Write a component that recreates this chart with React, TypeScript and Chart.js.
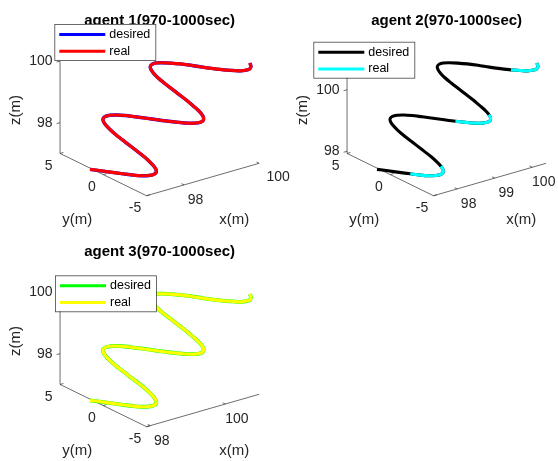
import { useEffect, useRef } from "react";
import { Chart, registerables } from "chart.js";

Chart.register(...registerables);

// Sample times over the 970–1000 s window (0.5 s step)
const timeSec = [
  970, 970.5, 971, 971.5, 972, 972.5, 973, 973.5, 974, 974.5, 975, 975.5, 976, 976.5, 977, 977.5,
  978, 978.5, 979, 979.5, 980, 980.5, 981, 981.5, 982, 982.5, 983, 983.5, 984, 984.5, 985, 985.5,
  986, 986.5, 987, 987.5, 988, 988.5, 989, 989.5, 990, 990.5, 991, 991.5, 992, 992.5, 993, 993.5,
  994, 994.5, 995, 995.5, 996, 996.5, 997, 997.5, 998, 998.5, 999, 999.5, 1000,
];

// Agent 1 track (m)
const agent1X = [
  97, 97.05, 97.1, 97.15, 97.2, 97.25, 97.3, 97.35, 97.4, 97.45, 97.5, 97.55, 97.6, 97.65, 97.7, 97.75,
  97.8, 97.85, 97.9, 97.95, 98, 98.05, 98.1, 98.15, 98.2, 98.25, 98.3, 98.35, 98.4, 98.45, 98.5, 98.55,
  98.6, 98.65, 98.7, 98.75, 98.8, 98.85, 98.9, 98.95, 99, 99.05, 99.1, 99.15, 99.2, 99.25, 99.3, 99.35,
  99.4, 99.45, 99.5, 99.55, 99.6, 99.65, 99.7, 99.75, 99.8, 99.85, 99.9, 99.95, 100,
];
const agent1Y = [
  1.53, 0.47, -0.61, -1.66, -2.61, -3.39, -3.97, -4.3, -4.36, -4.16, -3.69, -3.0, -2.13, -1.12, -0.04, 1.03,
  2.05, 2.94, 3.65, 4.13, 4.35, 4.31, 4.0, 3.45, 2.68, 1.74, 0.7, -0.39, -1.45, -2.42, -3.24, -3.87,
  -4.25, -4.37, -4.22, -3.81, -3.16, -2.32, -1.34, -0.27, 0.81, 1.85, 2.77, 3.51, 4.05, 4.33, 4.34, 4.09,
  3.58, 2.85, 1.95, 0.93, -0.16, -1.23, -2.23, -3.08, -3.75, -4.19, -4.37, -4.27, -3.92,
];
const agent1Z = [
  96.96, 97.04, 97.12, 97.2, 97.27, 97.34, 97.41, 97.47, 97.52, 97.56, 97.6, 97.63, 97.66, 97.68, 97.7, 97.72,
  97.74, 97.77, 97.8, 97.84, 97.88, 97.93, 97.99, 98.06, 98.13, 98.2, 98.28, 98.36, 98.44, 98.52, 98.59, 98.66,
  98.72, 98.77, 98.82, 98.86, 98.89, 98.91, 98.94, 98.96, 98.98, 99.0, 99.02, 99.05, 99.09, 99.13, 99.18, 99.24,
  99.3, 99.37, 99.45, 99.53, 99.6, 99.68, 99.76, 99.84, 99.9, 99.97, 100.02, 100.07, 100.11,
];

// Agent 2 track (m)
const agent2X = [
  97.37, 97.42, 97.47, 97.52, 97.57, 97.62, 97.67, 97.72, 97.77, 97.82, 97.87, 97.92, 97.97, 98.02, 98.07, 98.12,
  98.17, 98.22, 98.27, 98.32, 98.37, 98.42, 98.47, 98.52, 98.57, 98.62, 98.67, 98.72, 98.77, 98.82, 98.87, 98.92,
  98.97, 99.02, 99.07, 99.12, 99.17, 99.22, 99.27, 99.32, 99.37, 99.42, 99.47, 99.52, 99.57, 99.62, 99.67, 99.72,
  99.77, 99.82, 99.87, 99.92, 99.97, 100.02, 100.07, 100.12, 100.17, 100.22, 100.27, 100.32, 100.37,
];
const agent2Y = [
  1.53, 0.47, -0.61, -1.66, -2.61, -3.39, -3.97, -4.3, -4.36, -4.16, -3.69, -3.0, -2.13, -1.12, -0.04, 1.03,
  2.05, 2.94, 3.65, 4.13, 4.35, 4.31, 4.0, 3.45, 2.68, 1.74, 0.7, -0.39, -1.45, -2.42, -3.24, -3.87,
  -4.25, -4.37, -4.22, -3.81, -3.16, -2.32, -1.34, -0.27, 0.81, 1.85, 2.77, 3.51, 4.05, 4.33, 4.34, 4.09,
  3.58, 2.85, 1.95, 0.93, -0.16, -1.23, -2.23, -3.08, -3.75, -4.19, -4.37, -4.27, -3.92,
];
const agent2Z = [
  97.89, 97.97, 98.05, 98.13, 98.2, 98.27, 98.34, 98.4, 98.45, 98.49, 98.53, 98.56, 98.59, 98.61, 98.63, 98.65,
  98.67, 98.7, 98.73, 98.77, 98.81, 98.86, 98.92, 98.99, 99.06, 99.13, 99.21, 99.29, 99.37, 99.45, 99.52, 99.59,
  99.65, 99.7, 99.75, 99.79, 99.82, 99.84, 99.87, 99.89, 99.91, 99.93, 99.95, 99.98, 100.02, 100.06, 100.11, 100.17,
  100.23, 100.3, 100.38, 100.46, 100.53, 100.61, 100.69, 100.77, 100.83, 100.9, 100.95, 101.0, 101.04,
];

// Agent 3 track (m)
const agent3X = [
  97.9, 97.95, 98, 98.05, 98.1, 98.15, 98.2, 98.25, 98.3, 98.35, 98.4, 98.45, 98.5, 98.55, 98.6, 98.65,
  98.7, 98.75, 98.8, 98.85, 98.9, 98.95, 99, 99.05, 99.1, 99.15, 99.2, 99.25, 99.3, 99.35, 99.4, 99.45,
  99.5, 99.55, 99.6, 99.65, 99.7, 99.75, 99.8, 99.85, 99.9, 99.95, 100, 100.05, 100.1, 100.15, 100.2, 100.25,
  100.3, 100.35, 100.4, 100.45, 100.5, 100.55, 100.6, 100.65, 100.7, 100.75, 100.8, 100.85, 100.9,
];
const agent3Y = [
  1.53, 0.47, -0.61, -1.66, -2.61, -3.39, -3.97, -4.3, -4.36, -4.16, -3.69, -3.0, -2.13, -1.12, -0.04, 1.03,
  2.05, 2.94, 3.65, 4.13, 4.35, 4.31, 4.0, 3.45, 2.68, 1.74, 0.7, -0.39, -1.45, -2.42, -3.24, -3.87,
  -4.25, -4.37, -4.22, -3.81, -3.16, -2.32, -1.34, -0.27, 0.81, 1.85, 2.77, 3.51, 4.05, 4.33, 4.34, 4.09,
  3.58, 2.85, 1.95, 0.93, -0.16, -1.23, -2.23, -3.08, -3.75, -4.19, -4.37, -4.27, -3.92,
];
const agent3Z = [
  96.96, 97.04, 97.12, 97.2, 97.27, 97.34, 97.41, 97.47, 97.52, 97.56, 97.6, 97.63, 97.66, 97.68, 97.7, 97.72,
  97.74, 97.77, 97.8, 97.84, 97.88, 97.93, 97.99, 98.06, 98.13, 98.2, 98.28, 98.36, 98.44, 98.52, 98.59, 98.66,
  98.72, 98.77, 98.82, 98.86, 98.89, 98.91, 98.94, 98.96, 98.98, 99.0, 99.02, 99.05, 99.09, 99.13, 99.18, 99.24,
  99.3, 99.37, 99.45, 99.53, 99.6, 99.68, 99.76, 99.84, 99.9, 99.97, 100.02, 100.07, 100.11,
];

// Axis limits and ticks
const agent1XLim: [number, number] = [97, 100];
const agent1ZLim: [number, number] = [97, 100];
const agent2XLim: [number, number] = [97.37, 100.37];
const agent2ZLim: [number, number] = [97.93, 100.93];
const agent3XLim: [number, number] = [97.9, 100.9];
const agent3ZLim: [number, number] = [97, 100];
const yLim: [number, number] = [-5, 5];

const agent1XTicks = [98, 100];
const agent2XTicks = [98, 99, 100];
const agent3XTicks = [98, 100];
const yTicks = [-5, 0, 5];
const zTicks = [98, 100];

// Time spans where agent 2's measured track is rendered above the desired one
const agent2RealAboveSpans = [
  [971.5, 975],
  [984, 987.5],
  [997, 1000],
];

// View (orthographic, azimuth / elevation in degrees)
const AZ = (-37.5 * Math.PI) / 180;
const EL = (30 * Math.PI) / 180;

// Panel canvas geometry
const CW = 300;
const CH = 231;
const CX = 159.6;
const KX = 142;
const CY = 112.2;
const KY = 106.6;

const FONT = '"Liberation Sans", Arial, Helvetica, sans-serif';
const AXIS_COLOR = "rgba(38,38,38,0.85)";
const TEXT_COLOR = "#262626";

type Lim = { x: [number, number]; y: [number, number]; z: [number, number] };

interface Panel {
  title: string;
  left: number;
  top: number;
  lim: Lim;
  xTicks: number[];
  xs: number[];
  ys: number[];
  zs: number[];
  desiredColor: string;
  realColor: string;
  desiredWidth: number;
  realWidth: number;
  legendAt: [number, number];
  realAbove?: number[][];
}

function project(x: number, y: number, z: number, lim: Lim) {
  const X = (x - lim.x[0]) / (lim.x[1] - lim.x[0]) - 0.5;
  const Y = (y - lim.y[0]) / (lim.y[1] - lim.y[0]) - 0.5;
  const Z = (z - lim.z[0]) / (lim.z[1] - lim.z[0]) - 0.5;
  return {
    x: X * Math.cos(AZ) + Y * Math.sin(AZ),
    y: (-X * Math.sin(AZ) + Y * Math.cos(AZ)) * Math.sin(EL) + Z * Math.cos(EL),
  };
}

const panels: Panel[] = [
  {
    title: "agent 1(970-1000sec)",
    left: 0,
    top: 0,
    lim: { x: agent1XLim, y: yLim, z: agent1ZLim },
    xTicks: agent1XTicks,
    xs: agent1X,
    ys: agent1Y,
    zs: agent1Z,
    desiredColor: "#0000ff",
    realColor: "#ff0000",
    desiredWidth: 3.4,
    realWidth: 3.1,
    legendAt: [54.3, 24],
  },
  {
    title: "agent 2(970-1000sec)",
    left: 287,
    top: 0,
    lim: { x: agent2XLim, y: yLim, z: agent2ZLim },
    xTicks: agent2XTicks,
    xs: agent2X,
    ys: agent2Y,
    zs: agent2Z,
    desiredColor: "#000000",
    realColor: "#00ffff",
    desiredWidth: 3.1,
    realWidth: 3.1,
    legendAt: [26.3, 41.7],
    realAbove: agent2RealAboveSpans,
  },
  {
    title: "agent 3(970-1000sec)",
    left: 0,
    top: 231,
    lim: { x: agent3XLim, y: yLim, z: agent3ZLim },
    xTicks: agent3XTicks,
    xs: agent3X,
    ys: agent3Y,
    zs: agent3Z,
    desiredColor: "#00ff00",
    realColor: "#ffff00",
    desiredWidth: 3.8,
    realWidth: 3.1,
    legendAt: [55, 44.3],
  },
];

function makeAxesPlugin(p: Panel) {
  return {
    id: "axes3d",
    beforeDatasetsDraw(chart: any) {
      const ctx: CanvasRenderingContext2D = chart.ctx;
      const sx = chart.scales.x;
      const sy = chart.scales.y;
      const pix = (x: number, y: number, z: number): [number, number] => {
        const q = project(x, y, z, p.lim);
        return [sx.getPixelForValue(q.x), sy.getPixelForValue(q.y)];
      };
      const seg = (a: [number, number], b: [number, number]) => {
        ctx.beginPath();
        ctx.moveTo(a[0], a[1]);
        ctx.lineTo(b[0], b[1]);
        ctx.stroke();
      };
      const [x0, x1] = p.lim.x;
      const [y0, y1] = p.lim.y;
      const [z0, z1] = p.lim.z;

      ctx.save();
      ctx.strokeStyle = AXIS_COLOR;
      ctx.lineWidth = 0.8;
      seg(pix(x0, y0, z0), pix(x1, y0, z0));
      seg(pix(x0, y0, z0), pix(x0, y1, z0));
      seg(pix(x0, y1, z0), pix(x0, y1, z1));

      const tx = 0.03 * (y1 - y0);
      p.xTicks.forEach((t) => seg(pix(t, y0, z0), pix(t, y0 + tx, z0)));
      const ty = 0.03 * (x1 - x0);
      yTicks.forEach((t) => seg(pix(x0, t, z0), pix(x0 + ty, t, z0)));
      zTicks.forEach((t) => seg(pix(x0, y1, t), pix(x0 - ty, y1, t)));

      ctx.fillStyle = TEXT_COLOR;
      ctx.font = `14px ${FONT}`;
      ctx.textBaseline = "middle";
      ctx.textAlign = "right";
      zTicks.forEach((t) => {
        const [a, b] = pix(x0, y1, t);
        ctx.fillText(String(t), a - 7.5, b);
      });
      ctx.textAlign = "center";
      yTicks.forEach((t) => {
        const [a, b] = pix(x0, t, z0);
        ctx.fillText(String(t), a - 11.5, b + 12.5);
      });
      p.xTicks.forEach((t) => {
        const [a, b] = pix(t, y0, z0);
        // a label at the far end of the axis sits a little further out
        const atEnd = Math.abs(t - x1) < 0.05;
        ctx.fillText(String(t), a + (atEnd ? 19 : 11.5), b + (atEnd ? 14 : 15));
      });

      // axis titles
      ctx.font = `15px ${FONT}`;
      const xm = pix((x0 + x1) / 2, y0, z0);
      ctx.fillText("x(m)", xm[0] + 31.5, xm[1] + 40);
      const ym = pix(x0, (y0 + y1) / 2, z0);
      ctx.fillText("y(m)", ym[0] - 26, ym[1] + 45);
      const zm = pix(x0, y1, (z0 + z1) / 2);
      ctx.save();
      ctx.translate(zm[0] - 43.7, zm[1] + 2.7);
      ctx.rotate(-Math.PI / 2);
      ctx.fillText("z(m)", 0, 0);
      ctx.restore();

      // panel title
      ctx.fillStyle = "#000000";
      ctx.font = `bold 15px ${FONT}`;
      ctx.textBaseline = "alphabetic";
      ctx.fillText(p.title, sx.getPixelForValue(0), 24.5);
      ctx.restore();
    },
    afterDatasetsDraw(chart: any) {
      const ctx: CanvasRenderingContext2D = chart.ctx;
      const [lx, ly] = p.legendAt;
      const w = 101;
      const h = 36;
      ctx.save();
      ctx.fillStyle = "#ffffff";
      ctx.fillRect(lx, ly, w, h);
      ctx.strokeStyle = AXIS_COLOR;
      ctx.lineWidth = 0.8;
      ctx.strokeRect(lx + 0.5, ly + 0.5, w, h);
      const rows: [string, string][] = [
        ["desired", p.desiredColor],
        ["real", p.realColor],
      ];
      rows.forEach(([label, color], i) => {
        const y = ly + 10.5 + i * 16.7;
        ctx.strokeStyle = color;
        ctx.lineWidth = 3;
        ctx.beginPath();
        ctx.moveTo(lx + 5, y);
        ctx.lineTo(lx + 51, y);
        ctx.stroke();
        ctx.fillStyle = "#000000";
        ctx.font = `12.5px ${FONT}`;
        ctx.textAlign = "left";
        ctx.textBaseline = "middle";
        ctx.fillText(label, lx + 55, y);
      });
      ctx.restore();
    },
  };
}

function PanelChart({ panel }: { panel: Panel }) {
  const ref = useRef<HTMLCanvasElement | null>(null);

  useEffect(() => {
    const canvas = ref.current;
    if (!canvas) return;
    const pts = panel.xs.map((x, i) => project(x, panel.ys[i], panel.zs[i], panel.lim));
    const spans = panel.realAbove;
    const inSpan = (t: number) => !spans || spans.some(([a, b]) => t >= a && t <= b);

    const chart = new Chart(canvas, {
      type: "scatter",
      data: {
        datasets: [
          {
            label: "real",
            data: pts,
            showLine: true,
            borderColor: panel.realColor,
            borderWidth: panel.realWidth,
            pointRadius: 0,
            tension: 0.3,
            order: 0,
            clip: false,
            segment: {
              borderColor: (c: any) =>
                inSpan(timeSec[c.p0DataIndex]) && inSpan(timeSec[c.p1DataIndex])
                  ? panel.realColor
                  : "rgba(0,0,0,0)",
            },
          } as any,
          {
            label: "desired",
            data: pts,
            showLine: true,
            borderColor: panel.desiredColor,
            borderWidth: panel.desiredWidth,
            pointRadius: 0,
            tension: 0.3,
            order: 1,
            clip: false,
          } as any,
        ],
      },
      options: {
        responsive: false,
        animation: false,
        events: [],
        layout: { padding: 0 },
        plugins: {
          legend: { display: false },
          title: { display: false },
          tooltip: { enabled: false },
        },
        scales: {
          x: { type: "linear", display: false, min: -CX / KX, max: (CW - CX) / KX },
          y: { type: "linear", display: false, min: (CY - CH) / KY, max: CY / KY },
        },
      },
      plugins: [makeAxesPlugin(panel)],
    });
    return () => chart.destroy();
  }, [panel]);

  return (
    <canvas
      ref={ref}
      width={CW}
      height={CH}
      style={{ position: "absolute", left: panel.left, top: panel.top, width: CW, height: CH }}
    />
  );
}

export default function App() {
  return (
    <div
      style={{
        position: "absolute",
        left: 0,
        top: 0,
        width: 558,
        height: 461,
        overflow: "hidden",
        background: "#ffffff",
      }}
    >
      {panels.map((p) => (
        <PanelChart key={p.title} panel={p} />
      ))}
    </div>
  );
}
